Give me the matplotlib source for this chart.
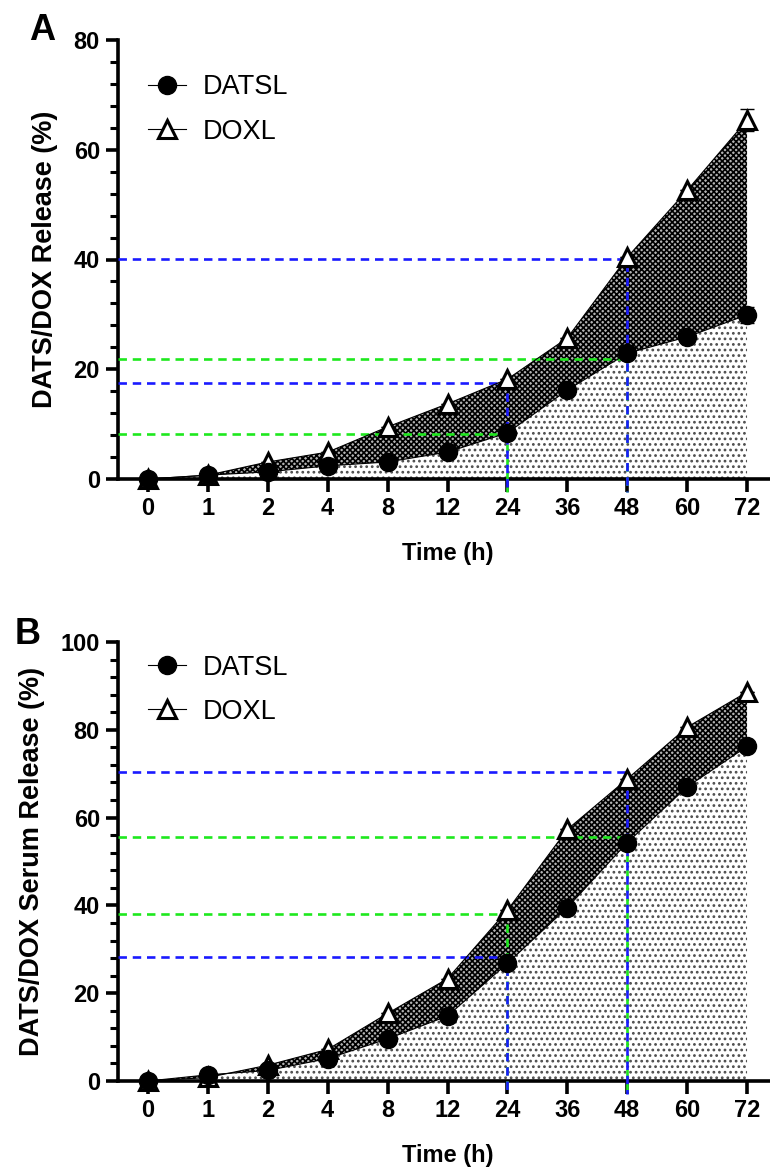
import numpy as np
import matplotlib.pyplot as plt
from matplotlib.ticker import MultipleLocator

plt.rcParams['font.family'] = ['Liberation Sans', 'DejaVu Sans']
plt.rcParams['hatch.linewidth'] = 1.2

times = ['0', '1', '2', '4', '8', '12', '24', '36', '48', '60', '72']

# panel A: release (%)
a_datsl = [0, 0.7, 1.3, 2.4, 3.1, 4.9, 8.4, 16.2, 22.9, 25.9, 29.9]
a_datsl_err = [0, 0, 0, 0, 0, 0, 0, 0, 0, 0, 1.5]
a_doxl = [0, 0.7, 3.1, 4.9, 9.5, 13.7, 18.2, 25.7, 40.4, 52.6, 65.4]
a_doxl_err = [0, 0, 0, 0, 0, 0, 0, 0, 0, 0, 2.0]

# panel B: serum release (%)
b_datsl = [0, 1.4, 2.4, 5.1, 9.6, 14.8, 26.8, 39.5, 54.3, 67.0, 76.2]
b_datsl_err = [0] * 11
b_doxl = [0, 0.8, 3.6, 7.2, 15.4, 23.3, 38.9, 57.3, 68.8, 80.6, 88.6]
b_doxl_err = [0] * 11

# guide lines: (time label, value, colour)
a_guides = [('48', 21.8, 'g'), ('24', 8.2, 'g'), ('48', 40.1, 'b'), ('24', 17.5, 'b')]
b_guides = [('48', 55.6, 'g'), ('24', 38.1, 'g'), ('48', 70.4, 'b'), ('24', 28.2, 'b')]
guide_colors = {'g': '#1ee81e', 'b': '#1a1aff'}

W, H = 770, 1169
fig = plt.figure(figsize=(W / 100, H / 100), dpi=100)

x = np.arange(len(times))


def panel(top_px, datsl, datsl_err, doxl, doxl_err, guides, ymax, ylabel,
          letter, letter_xy, leg_y):
    left, right, bottom = 118, 777, top_px + 439
    ax = fig.add_axes([left / W, 1 - bottom / H, (right - left) / W, 439 / H])
    ax.set_xlim(-0.5, len(times) - 0.5)
    ax.set_ylim(0, ymax)

    ax.fill_between(x, 0, datsl, facecolor='white', edgecolor='0.3', hatch='...', lw=0, zorder=1)
    ax.fill_between(x, datsl, doxl, facecolor='0.7', edgecolor='black', hatch='xxxxxx', lw=0, zorder=1)

    ybot = -13 * ymax / 439
    for t, v, c in guides:
        xi = times.index(t)
        ax.plot([-0.5, xi, xi], [v, v, ybot], ls=(0, (3.2, 2.2)), lw=1.9,
                color=guide_colors[c], clip_on=False, zorder=3)

    ax.errorbar(x, doxl, yerr=doxl_err, fmt='none', ecolor='black', capsize=5,
                elinewidth=1, zorder=4)
    ax.errorbar(x, datsl, yerr=datsl_err, fmt='none', ecolor='black', capsize=5,
                elinewidth=1, zorder=4)
    l_dox, = ax.plot(x, doxl, color='black', lw=0.8, marker='^', ms=13, mfc='white',
                     mec='black', mew=2.2, clip_on=False, zorder=5)
    l_dat, = ax.plot(x, datsl, color='black', lw=0.8, marker='o', ms=13, mfc='black',
                     mec='black', clip_on=False, zorder=6)

    for s in ['top', 'right']:
        ax.spines[s].set_visible(False)
    for s in ['left', 'bottom']:
        ax.spines[s].set_linewidth(2.6)

    ax.set_xticks(x)
    ax.set_xticklabels(times)
    ax.yaxis.set_major_locator(MultipleLocator(20))
    ax.yaxis.set_minor_locator(MultipleLocator(4))
    ax.tick_params(axis='both', which='major', length=9, width=2.6, labelsize=17, pad=4)
    ax.tick_params(axis='y', which='minor', length=6, width=2.2)
    for lab in ax.get_xticklabels() + ax.get_yticklabels():
        lab.set_fontweight('bold')

    ax.set_xlabel('Time (h)', fontsize=17, fontweight='bold', labelpad=16)
    ax.set_ylabel(ylabel, fontsize=19.5, fontweight='bold', labelpad=11)

    ax.legend([l_dat, l_dox], ['DATSL', 'DOXL'], loc='upper left',
              bbox_to_anchor=(0.009, leg_y), frameon=False, fontsize=19.5,
              handlelength=1.4, handletextpad=0.6, labelspacing=0.68)

    fig.text(letter_xy[0] / W, 1 - letter_xy[1] / H, letter, fontsize=26,
             fontweight='bold', ha='center', va='center')
    return ax


panel(40, a_datsl, a_datsl_err, a_doxl, a_doxl_err, a_guides, 80,
      'DATS/DOX Release (%)', 'A', (42, 30), 0.977)
panel(642, b_datsl, b_datsl_err, b_doxl, b_doxl_err, b_guides, 100,
      'DATS/DOX Serum Release (%)', 'B', (28, 635), 1.027)

fig.savefig('out.png', dpi=100)
